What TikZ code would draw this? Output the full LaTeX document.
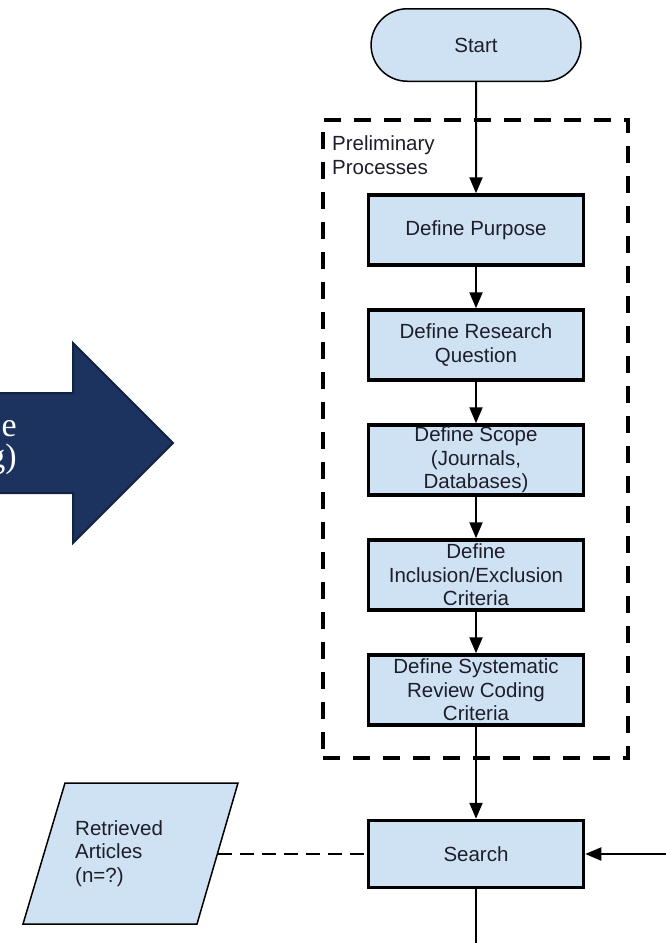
\documentclass[tikz,border=0pt]{standalone}
\usepackage{fontspec}
\setmainfont{Liberation Sans}
\newfontfamily\slideserif{Liberation Serif}
\usetikzlibrary{positioning}
\usetikzlibrary{shapes.misc}
\usetikzlibrary{arrows.meta}
\definecolor{boxblue}{HTML}{CFE2F3}
\definecolor{slidenavy}{HTML}{1C325F}
\definecolor{slideedge}{HTML}{122241}
\definecolor{boxtext}{HTML}{1E1E2A}
\newcommand\flowfont{\fontsize{20.5}{23.5}\selectfont}
\newcommand\bannerfont{\slideserif\fontsize{34}{31}\selectfont}
\tikzset{
    % Filled triangle tips, as the drawing tool gives them
    >={Triangle[length=16pt,width=13pt]},
%
    % Plain flow lines between the steps
    flow/.style={line width=2pt},
%
    % Boxes for each process step
    process box/.style={
        draw, line width=3.5pt, fill=boxblue, text=boxtext,
        minimum width=215pt, minimum height=70pt, inner sep=1pt,
        align=center, font=\flowfont},
%
    % Rounded ends for the start of the chart
    terminal/.style={
        rounded rectangle, draw, line width=1.5pt, fill=boxblue,
        text=boxtext, minimum width=216.5pt, minimum height=72.5pt,
        font=\flowfont},
%
    % Slanted outline for data coming out of a step
    data outline/.style={draw, line width=1.5pt, fill=boxblue},
%
    % Dashed frame round a group of steps
    group frame/.style={
        draw, line width=3.5pt, dash pattern=on 17pt off 13pt,
        minimum width=305pt, minimum height=638pt},
%
    % The dark arrow left over from the slide
    banner/.style={fill=slidenavy, draw=slideedge, line width=2pt},
    node distance=41.5pt}

\begin{document}
\begin{tikzpicture}[x=1pt, y=-1pt]
\useasboundingbox (0,0) rectangle (666,943);

% banner arrow, cut off at the left edge
\draw[banner] (-20,393) -- (73,393) -- (73,343) -- (173,443)
    -- (73,543) -- (73,493) -- (-20,493) -- cycle;
\node (cuttext) [anchor=east, inner sep=0, text=white, align=right,
    font=\bannerfont] at (17,448) {e\hspace{5pt}\\g)};

\node (prelim) [group frame] at (475.5,439) {};
\node (prelimlabel) [anchor=north west, inner sep=0, align=left,
    text=boxtext, font=\fontsize{20.5}{24}\selectfont]
    at (332,135) {Preliminary\\Processes};

\node (start) [terminal] at (476,45) {Start};
\node (purpose) [process box, below=111.25pt of start] {Define Purpose};
\node (question) [process box, below=of purpose] {Define Research\\Question};
\node (scope) [process box, below=of question]
    {Define Scope\\(Journals,\\Databases)};
\node (criteria) [process box, below=of scope]
    {Define\\Inclusion/Exclusion\\Criteria};
\node (coding) [process box, below=of criteria]
    {Define Systematic\\Review Coding\\Criteria};
\node (search) [process box, minimum height=67pt, below=92pt of coding]
    {Search};

% the data box: a parallelogram drawn round its text
\draw[data outline] (65,783) -- (238,783) -- (197,924) -- (23,924) -- cycle;
\coordinate (retrievededge) at (217.5,853.5);
\node (retrieved) [anchor=west, inner sep=0, align=left, text=boxtext,
    font=\flowfont] at (75,853.5) {Retrieved\\Articles\\(n=?)};

\foreach \a/\b in {start/purpose, purpose/question, question/scope,
        scope/criteria, criteria/coding, coding/search}
    \draw[flow, ->] (\a) -- (\b);

\draw[flow, dash pattern=on 14pt off 8pt]
    (retrievededge) -- (retrievededge -| search.west);

\path (search.east) ++(90,0) coordinate (feedback);
\draw[flow, ->] (feedback) -- (search.east);
\path (search.south) ++(0,80) coordinate (onward);
\draw[flow] (search) -- (onward);

\end{tikzpicture}
\end{document}
